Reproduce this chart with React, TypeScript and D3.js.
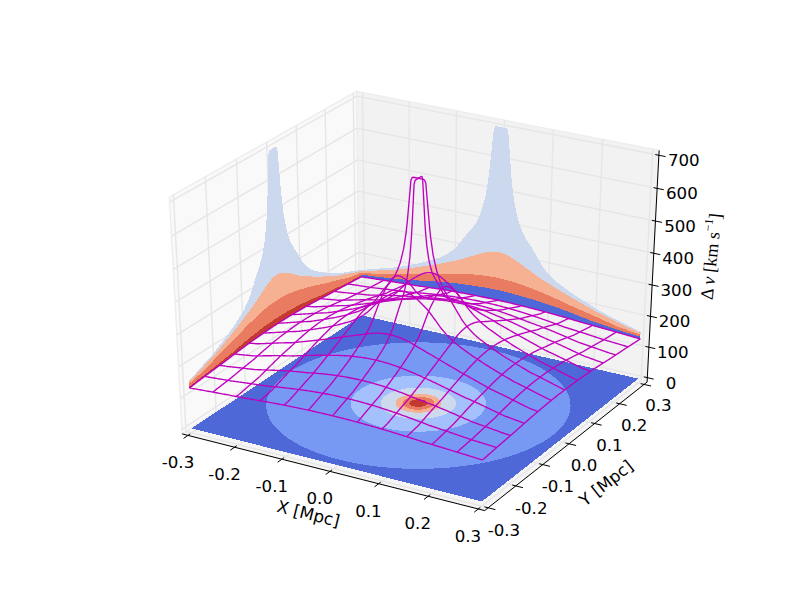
import React from "react";
import * as d3 from "d3";

// --- data -----------------------------------------------------------------
const xTicks = [-0.3, -0.2, -0.1, 0.0, 0.1, 0.2, 0.3];
const yTicks = [-0.3, -0.2, -0.1, 0.0, 0.1, 0.2, 0.3];
const zTicks = [0, 100, 200, 300, 400, 500, 600, 700];

// radial speed profile of the surface (Mpc -> km/s)
const profileRadius = [0, 0.012, 0.015, 0.018, 0.024, 0.03, 0.037, 0.044, 0.05, 0.06, 0.069, 0.08, 0.09, 0.1, 0.115, 0.125, 0.15, 0.175, 0.2, 0.23, 0.25, 0.279, 0.3, 0.35, 0.43];
const profileSpeed = [700, 700, 690, 640, 540, 480, 435, 405, 385, 362, 345, 320, 298, 281, 262, 252, 232, 215, 200, 183, 175, 162, 153, 141, 129];

// wireframe lines
const wireLines = [-0.3, -0.25, -0.2, -0.15, -0.1, -0.05, 0, 0.05, 0.1, 0.15, 0.2, 0.25, 0.3];

// filled contour rings on the floor: radius (Mpc) and colour
const floorBase = "#4e69d7";
const ringRadius = [0.279, 0.124, 0.069, 0.042, 0.029, 0.0165];
const ringColor = ["#7799f4", "#a4c1fe", "#cdd9ec", "#f6b193", "#e97b60", "#c23a30"];

// contour bands on the walls: distance of the level from the wall's centre plane
const wallXLevels = [0, 0.085, 0.155, 0.255];
const wallXColors = ["#cbd8ee", "#f6b193", "#e97b60", "#c23a30"];
const wallYLevels = [0, 0.085, 0.16, 0.225];
const wallYColors = ["#cbd8ee", "#f6b193", "#e97b60", "#4e69d7"];
const wallEdgeLevel = 0.3;

// --- mplot3d style projection ---------------------------------------------
const rad = Math.PI / 180;
const elev = 30 * rad;
const azim = -60 * rad;
const dist = 10;
const n = [Math.cos(elev) * Math.cos(azim), Math.cos(elev) * Math.sin(azim), Math.sin(elev)];
const uLen = Math.hypot(n[1], n[0]);
const u = [-n[1] / uLen, n[0] / uLen, 0];
const v = [n[1] * u[2] - n[2] * u[1], n[2] * u[0] - n[0] * u[2], n[0] * u[1] - n[1] * u[0]];

const sx = d3.scaleLinear().domain([-0.095, 0.09]).range([100, 720]);
const sy = d3.scaleLinear().domain([-0.095, 0.09]).range([540, 60]);
const wx = d3.scaleLinear().domain([-0.3, 0.3]).range([0, 1]);
const wy = d3.scaleLinear().domain([-0.3, 0.3]).range([0, 1]);
const wz = d3.scaleLinear().domain([0, 700]).range([0, 1]);

function proj(a: number, b: number, c: number): [number, number] {
  const p = [a - 0.5, b - 0.5, c - 0.5];
  const X = u[0] * p[0] + u[1] * p[1] + u[2] * p[2];
  const Y = v[0] * p[0] + v[1] * p[1] + v[2] * p[2];
  const Z = n[0] * p[0] + n[1] * p[1] + n[2] * p[2];
  const w = dist - Z;
  return [sx(X / w), sy(Y / w)];
}

const speedAt = d3.scaleLinear().domain(profileRadius).range(profileSpeed).clamp(true);
const surf = (x: number, y: number) => speedAt(Math.hypot(x, y));

const lo = -1 / 48;
const hi = 1 + 1 / 48;
const path = d3.line<[number, number]>().x((d) => d[0]).y((d) => d[1]);
const sweep = d3.range(-0.3, 0.30001, 0.0025);
const angles = d3.range(0, 360.01, 2).map((d) => d * rad);

const seg = (a: number[], b: number[]) => path([proj(a[0], a[1], a[2]), proj(b[0], b[1], b[2])]) as string;
const poly = (pts: number[][]) => (path(pts.map((p) => proj(p[0], p[1], p[2]))) as string) + "Z";

const gridColor = "#e6e6e6";
const labelFont = "'DejaVu Sans', sans-serif";
const fmt = (t: number) => t.toFixed(1);

function Label({ p, text, rotate = 0, size = 16.67 }: { p: [number, number]; text: string; rotate?: number; size?: number }) {
  return (
    <text
      x={p[0]}
      y={p[1]}
      textAnchor="middle"
      dominantBaseline="central"
      fontFamily={labelFont}
      fontSize={size}
      fill="#000"
      transform={rotate ? `rotate(${rotate} ${p[0]} ${p[1]})` : undefined}
    >
      {text}
    </text>
  );
}

export default function App() {
  const zlabel = proj(hi + 0.19, hi, 0.61);
  return (
    <svg width={800} height={600} viewBox="0 0 800 600" style={{ position: "absolute", left: 0, top: 0, background: "#fff" }}>
      {/* panes */}
      <path d={poly([[lo, lo, lo], [lo, hi, lo], [lo, hi, hi], [lo, lo, hi]])} fill="#f9f9f9" stroke="#eeeeee" strokeWidth={1.5} />
      <path d={poly([[lo, hi, lo], [hi, hi, lo], [hi, hi, hi], [lo, hi, hi]])} fill="#f2f2f2" stroke="#eeeeee" strokeWidth={1.5} />
      <path d={poly([[lo, lo, lo], [hi, lo, lo], [hi, hi, lo], [lo, hi, lo]])} fill="#f5f5f5" stroke="#eeeeee" strokeWidth={1.5} />

      {/* grid */}
      {xTicks.map((t) => (
        <g key={"gx" + t} fill="none" stroke={gridColor} strokeWidth={1.4}>
          <path d={seg([wx(t), lo, lo], [wx(t), hi, lo])} />
          <path d={seg([wx(t), hi, lo], [wx(t), hi, hi])} />
        </g>
      ))}
      {yTicks.map((t) => (
        <g key={"gy" + t} fill="none" stroke={gridColor} strokeWidth={1.4}>
          <path d={seg([hi, wy(t), lo], [lo, wy(t), lo])} />
          <path d={seg([lo, wy(t), lo], [lo, wy(t), hi])} />
        </g>
      ))}
      {zTicks.map((t) => (
        <g key={"gz" + t} fill="none" stroke={gridColor} strokeWidth={1.4}>
          <path d={seg([lo, lo, wz(t)], [lo, hi, wz(t)])} />
          <path d={seg([lo, hi, wz(t)], [hi, hi, wz(t)])} />
        </g>
      ))}

      {/* floor contours */}
      <path d={poly([[0, 0, 0], [1, 0, 0], [1, 1, 0], [0, 1, 0]])} fill={floorBase} shapeRendering="crispEdges" />
      {ringRadius.map((r, i) => (
        <path
          key={"ring" + i}
          d={poly(angles.map((a) => [wx(r * Math.cos(a)), wy(r * Math.sin(a)), 0]))}
          fill={ringColor[i]}
          shapeRendering="crispEdges"
        />
      ))}

      {/* wall x = -0.3 */}
      {wallXLevels.map((lv, i) => (
        <path
          key={"wx" + i}
          d={poly([
            ...sweep.map((t) => [0, wy(t), wz(speedAt(Math.hypot(lv, t)))]),
            ...sweep.slice().reverse().map((t) => [0, wy(t), wz(speedAt(Math.hypot(wallEdgeLevel, t)))]),
          ])}
          fill={wallXColors[i]}
          shapeRendering="crispEdges"
        />
      ))}
      {/* wall y = 0.3 */}
      {wallYLevels.map((lv, i) => (
        <path
          key={"wy" + i}
          d={poly([
            ...sweep.map((t) => [wx(t), 1, wz(speedAt(Math.hypot(lv, t)))]),
            ...sweep.slice().reverse().map((t) => [wx(t), 1, wz(speedAt(Math.hypot(wallEdgeLevel, t)))]),
          ])}
          fill={wallYColors[i]}
          shapeRendering="crispEdges"
        />
      ))}

      {/* wireframe */}
      <g fill="none" stroke="#bf00bf" strokeWidth={1.35}>
        {wireLines.map((c) => (
          <path key={"wa" + c} d={path(sweep.map((t) => proj(wx(t), wy(c), wz(surf(t, c))))) as string} />
        ))}
        {wireLines.map((c) => (
          <path key={"wb" + c} d={path(sweep.map((t) => proj(wx(c), wy(t), wz(surf(c, t))))) as string} />
        ))}
      </g>

      {/* axes */}
      <g fill="none" stroke="#000" strokeWidth={1}>
        <path d={seg([lo, lo, lo], [hi, lo, lo])} />
        <path d={seg([hi, lo, lo], [hi, hi, lo])} />
        <path d={seg([hi, hi, lo], [hi, hi, hi])} />
        {xTicks.map((t) => (
          <path key={"tx" + t} d={seg([wx(t), lo + 0.012, lo], [wx(t), lo - 0.024, lo])} />
        ))}
        {yTicks.map((t) => (
          <path key={"ty" + t} d={seg([hi - 0.012, wy(t), lo], [hi + 0.024, wy(t), lo])} />
        ))}
        {zTicks.map((t) => (
          <path key={"tz" + t} d={seg([hi - 0.012, hi, wz(t)], [hi + 0.022, hi, wz(t)])} />
        ))}
      </g>

      {/* tick labels */}
      {xTicks.map((t) => (
        <Label key={"lx" + t} p={proj(wx(t), lo - 0.06, lo - 0.09)} text={fmt(t)} />
      ))}
      {yTicks.map((t) => (
        <Label key={"ly" + t} p={proj(hi + 0.053, wy(t), lo - 0.085)} text={fmt(t)} />
      ))}
      {zTicks.map((t) => (
        <Label key={"lz" + t} p={proj(hi + 0.082, hi, wz(t))} text={String(t)} />
      ))}

      {/* axis titles */}
      <Label p={proj(0.495, lo - 0.117, lo - 0.128)} text="X [Mpc]" rotate={14} />
      <Label p={proj(hi + 0.13, 0.5, lo - 0.14)} text="Y [Mpc]" rotate={-38} />
      <text
        x={zlabel[0]}
        y={zlabel[1]}
        textAnchor="middle"
        dominantBaseline="central"
        fontFamily="'Liberation Serif', serif"
        fontSize={18}
        fill="#000"
        transform={`rotate(-84 ${zlabel[0]} ${zlabel[1]})`}
      >
        Δ <tspan fontStyle="italic">v</tspan> [km s
        <tspan dy={-6} fontSize={12}>−1</tspan>
        <tspan dy={6}>]</tspan>
      </text>
    </svg>
  );
}
